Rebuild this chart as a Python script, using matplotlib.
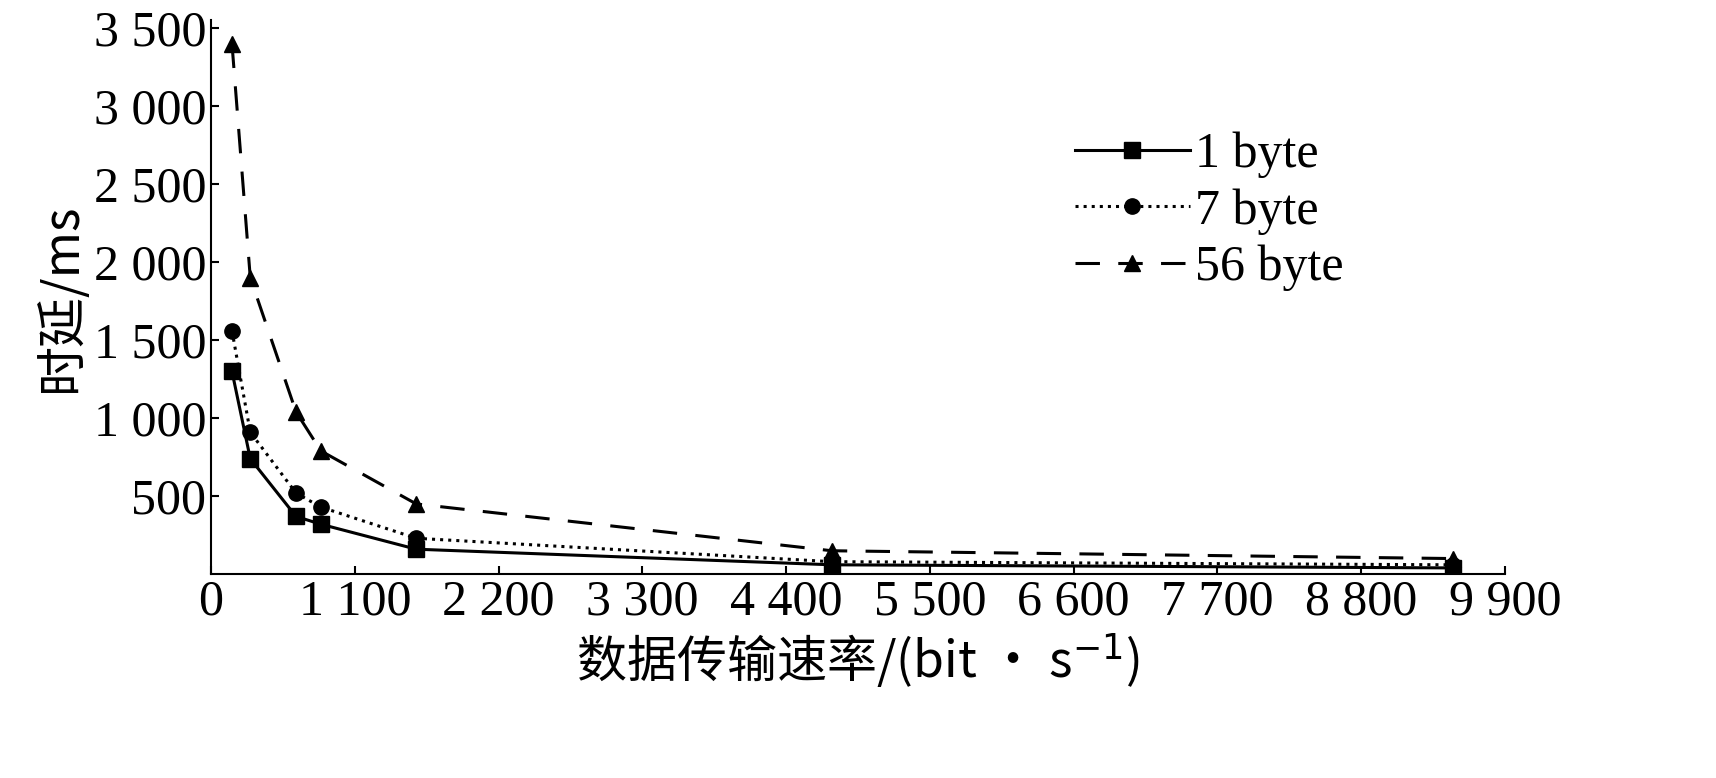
import matplotlib
matplotlib.use("Agg")
import matplotlib.pyplot as plt
from matplotlib.ticker import FuncFormatter

x = [160, 300, 650, 840, 1570, 4750, 9500]
y1 = [1300, 740, 370, 320, 160, 60, 40]
y7 = [1560, 910, 520, 430, 230, 80, 60]
y56 = [3400, 1900, 1040, 790, 450, 150, 100]
xticks = [0, 1100, 2200, 3300, 4400, 5500, 6600, 7700, 8800, 9900]
yticks = [500, 1000, 1500, 2000, 2500, 3000, 3500]

plt.rcParams['font.family'] = ['Liberation Serif', 'Noto Sans CJK SC']
fig = plt.figure(figsize=(17.16, 7.78), dpi=100)
ax = fig.add_axes([0.123, 0.262, 0.754, 0.712])
ax.plot(x, y1, '-', color='black', marker='s', ms=11, lw=2.2, label='1 byte')
ax.plot(x, y7, ':', color='black', marker='o', ms=11, lw=2.2, label='7 byte')
ax.plot(x, y56, '--', color='black', marker='^', ms=12, lw=2.2, dashes=(8, 6), label='56 byte')
ax.set_xlim(0, 9900)
ax.set_ylim(0, 3550)
ax.set_xticks(xticks)
ax.set_yticks(yticks)
fmt = FuncFormatter(lambda v, p: f"{int(v):,}".replace(",", " "))
ax.xaxis.set_major_formatter(fmt)
ax.yaxis.set_major_formatter(fmt)
ax.tick_params(direction='in', labelsize=36, width=1.5, length=6)
ax.spines['top'].set_visible(False)
ax.spines['right'].set_visible(False)
for s in ['left', 'bottom']:
    ax.spines[s].set_linewidth(1.5)
ax.set_xlabel('数据传输速率/(bit · s$^{-1}$)', fontsize=36, labelpad=4,
              family=['Noto Sans CJK SC', 'DejaVu Sans'])
ax.set_ylabel('时延/ms', fontsize=36, family=['Noto Sans CJK SC', 'DejaVu Sans'])
ax.legend(loc='upper right', bbox_to_anchor=(0.91, 0.88), frameon=False,
          fontsize=36, handlelength=2.3, labelspacing=0.2, handletextpad=0.1)
fig.savefig('out.png')
